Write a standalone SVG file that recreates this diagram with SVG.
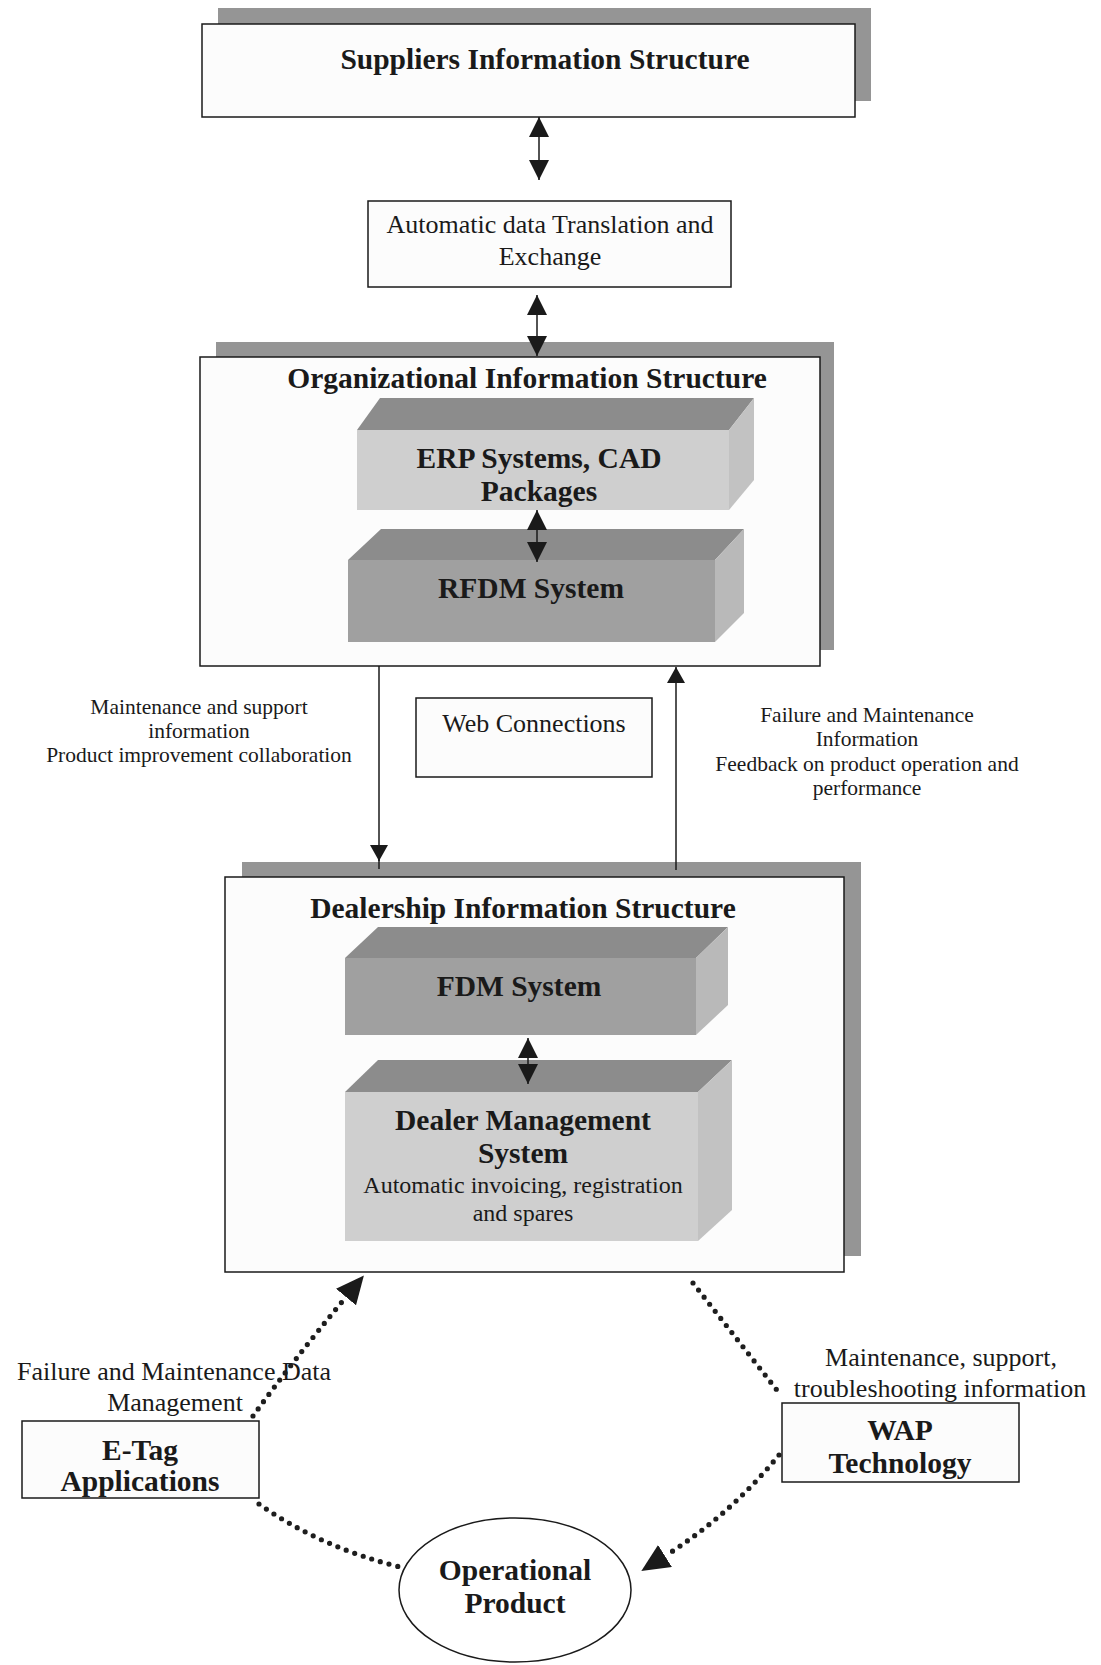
<svg xmlns="http://www.w3.org/2000/svg" width="1101" height="1665" viewBox="0 0 1101 1665">
<style>
.t{font-family:"Liberation Serif","Times New Roman",serif;fill:#1a1a1a;text-anchor:middle}
.b{font-weight:bold;font-size:29.5px}
.r{font-size:26px}
.s{font-size:21.5px}
.m{font-size:24px}
.box{fill:#fcfcfc;stroke:#1a1a1a;stroke-width:1.5}
.sh{fill:#959595}
.ln{fill:none;stroke:#1a1a1a;stroke-width:1.5}
.dot{fill:none;stroke:#1e1e1e;stroke-width:5.2;stroke-linecap:round;stroke-dasharray:0 9}
.top{fill:#8c8c8c}
.lt{fill:#cfcfcf}
.lts{fill:#c2c2c2}
.dk{fill:#a0a0a0}
.dks{fill:#b9b9b9}
</style>
<defs>
<marker id="ah" viewBox="0 0 20 20" refX="20" refY="10" markerWidth="20" markerHeight="20" markerUnits="userSpaceOnUse" orient="auto-start-reverse"><path d="M0,0 L20,10 L0,20 z" fill="#1a1a1a"/></marker>
<marker id="ahs" viewBox="0 0 16 18" refX="16" refY="9" markerWidth="16" markerHeight="18" markerUnits="userSpaceOnUse" orient="auto-start-reverse"><path d="M0,0 L16,9 L0,18 z" fill="#1a1a1a"/></marker>
<marker id="dah" viewBox="0 0 28 26" refX="0" refY="13" markerWidth="28" markerHeight="26" markerUnits="userSpaceOnUse" orient="auto"><path d="M0,0 L28,13 L0,26 z" fill="#1a1a1a"/></marker>
</defs>
<rect width="1101" height="1665" fill="#ffffff"/>

<g id="suppliers">
<rect class="sh" x="218" y="8" width="653" height="93"/>
<rect class="box" x="202" y="24" width="653" height="93"/>
<text class="t b" x="545" y="69">Suppliers Information Structure</text>
</g>

<g id="translation">
<rect class="box" x="368" y="201" width="363" height="86"/>
<text class="t r" x="550" y="233">Automatic data Translation and</text>
<text class="t r" x="550" y="265">Exchange</text>
</g>

<g id="organizational">
<rect class="sh" x="216" y="342" width="618" height="308"/>
<rect class="box" x="200" y="357" width="620" height="309"/>
<text class="t b" x="527" y="388">Organizational Information Structure</text>
</g>

<g id="erp">
<polygon class="top" points="380,398 754,398 729,430 357,430"/>
<polygon class="lts" points="729,430 754,398 754,480 729,510"/>
<rect class="lt" x="357" y="430" width="372" height="80"/>
<text class="t b" x="539" y="468">ERP Systems, CAD</text>
<text class="t b" x="539" y="501">Packages</text>
</g>

<g id="rfdm">
<polygon class="top" points="381,529 744,529 715,560 348,560"/>
<polygon class="dks" points="715,560 744,529 744,613 715,642"/>
<rect class="dk" x="348" y="560" width="367" height="82"/>
<text class="t b" x="531" y="598">RFDM System</text>
</g>

<g id="web">
<rect class="box" x="416" y="698" width="236" height="79"/>
<text class="t r" x="534" y="732">Web Connections</text>
</g>

<g id="label-left">
<text class="t s" x="199" y="714">Maintenance and support</text>
<text class="t s" x="199" y="738">information</text>
<text class="t s" x="199" y="762">Product improvement collaboration</text>
</g>

<g id="label-right">
<text class="t s" x="867" y="722">Failure and Maintenance</text>
<text class="t s" x="867" y="746">Information</text>
<text class="t s" x="867" y="771">Feedback on product operation and</text>
<text class="t s" x="867" y="795">performance</text>
</g>

<g id="dealership">
<rect class="sh" x="242" y="862" width="619" height="394"/>
<rect class="box" x="225" y="877" width="619" height="395"/>
<text class="t b" x="523" y="918">Dealership Information Structure</text>
</g>

<g id="fdm">
<polygon class="top" points="378,927 728,927 696,958 345,958"/>
<polygon class="dks" points="696,958 728,927 728,1005 696,1035"/>
<rect class="dk" x="345" y="958" width="351" height="77"/>
<text class="t b" x="519" y="996">FDM System</text>
</g>

<g id="dms">
<polygon class="top" points="378,1060 732,1060 698,1092 345,1092"/>
<polygon class="lts" points="698,1092 732,1060 732,1210 698,1241"/>
<rect class="lt" x="345" y="1092" width="353" height="149"/>
<text class="t b" x="523" y="1130">Dealer Management</text>
<text class="t b" x="523" y="1163">System</text>
<text class="t m" x="523" y="1193">Automatic invoicing, registration</text>
<text class="t m" x="523" y="1221">and spares</text>
</g>

<g id="etag">
<rect class="box" x="22" y="1421" width="237" height="77"/>
<text class="t b" x="140" y="1460">E-Tag</text>
<text class="t b" x="140" y="1491">Applications</text>
</g>

<g id="wap">
<rect class="box" x="782" y="1403" width="237" height="79"/>
<text class="t b" x="900" y="1440">WAP</text>
<text class="t b" x="900" y="1473">Technology</text>
</g>

<g id="operational">
<ellipse cx="515" cy="1590" rx="116" ry="72" fill="#ffffff" stroke="#1a1a1a" stroke-width="1.5"/>
<text class="t b" x="515" y="1580">Operational</text>
<text class="t b" x="515" y="1613">Product</text>
</g>

<g id="label-etag">
<text class="t r" x="174" y="1380">Failure and Maintenance Data</text>
<text class="t r" x="175" y="1411">Management</text>
</g>

<g id="label-wap">
<text class="t r" x="941" y="1366">Maintenance, support,</text>
<text class="t r" x="940" y="1397">troubleshooting information</text>
</g>

<g id="connectors">
<path class="ln" d="M539,117 L539,180" marker-start="url(#ah)" marker-end="url(#ah)"/>
<path class="ln" d="M537,295 L537,356" marker-start="url(#ah)" marker-end="url(#ah)"/>
<path class="ln" d="M537,510 L537,562" marker-start="url(#ah)" marker-end="url(#ah)"/>
<path class="ln" d="M528,1038 L528,1084" marker-start="url(#ah)" marker-end="url(#ah)"/>
<path class="ln" d="M379,666 L379,861" marker-end="url(#ahs)"/>
<path class="ln" d="M379,858 L379,869" stroke-width="4"/>
<path class="ln" d="M676,870 L676,667" marker-end="url(#ahs)"/>
<path class="dot" d="M253,1416 Q292,1362 346,1297" marker-end="url(#dah)"/>
<path class="dot" d="M693,1283 L780,1394"/>
<path class="dot" d="M779,1455 Q730,1515 665,1556" marker-end="url(#dah)"/>
<path class="dot" d="M259,1504 Q320,1547 400,1567"/>
</g>
</svg>
